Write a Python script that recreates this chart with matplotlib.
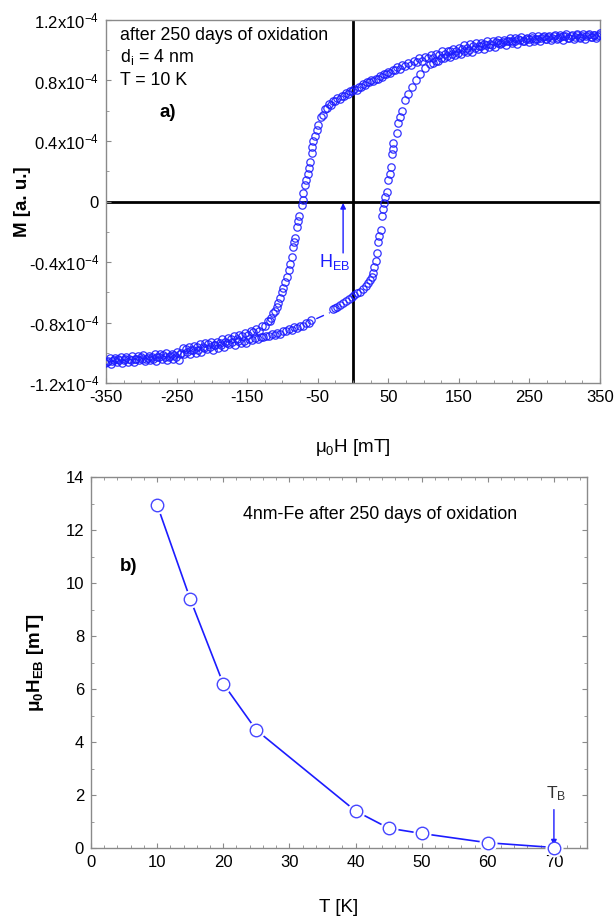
"""Exchange bias in oxidised 4 nm Fe: hysteresis loop at 10 K (a) and
temperature dependence of the exchange bias field (b)."""
import matplotlib

matplotlib.use("Agg")
import matplotlib.pyplot as plt
from matplotlib.ticker import FixedLocator, MultipleLocator

plt.rcParams["font.family"] = ["Liberation Sans", "DejaVu Sans"]
plt.rcParams["mathtext.default"] = "regular"
plt.rcParams["axes.unicode_minus"] = False

# --- panel a: M(H) loop, moment in units of 1e-4 a.u. ------------------------
# descending branch, +350 mT -> -350 mT
field_down = [
    350, 346, 342, 338, 334, 330, 326, 322, 318, 314, 310, 306, 302, 298, 294,
    290, 286, 282, 278, 274, 270, 266, 262, 258, 254, 250, 246, 242, 238, 234,
    230, 226, 222, 218, 214, 210, 206, 202, 198, 194, 190, 186, 182, 178, 174,
    170, 166, 162, 158, 154, 150, 146, 142, 138, 134, 130, 126, 122, 118, 114,
    110, 106, 102, 98, 94, 90, 86, 82, 78, 74, 70, 66,
    62, 59, 56, 53, 50, 47, 44, 41, 38, 35, 32, 29, 26, 23, 20, 17, 14, 11, 8,
    5, 2, -1, -4, -7, -10, -13, -16, -19, -22, -25, -28, -31, -34, -37, -40,
    -43, -46,
    -49, -51, -54, -56.7, -57.5, -58, -61, -62.5, -63.8, -66, -68, -71, -71.5,
    -72.3, -76.5, -78, -79.4, -82, -83.5, -85, -86.4, -89, -91, -93.5, -96,
    -99, -101, -103.5, -106, -107.7, -111, -113, -116, -117.6,
    -121, -125, -129, -133, -137, -141, -145, -149, -153, -157, -161, -165,
    -169, -173, -177, -181, -185, -189, -193, -197, -201, -205, -209, -213,
    -217, -221, -225, -229, -233, -237, -241, -245, -249, -253, -257, -261,
    -265, -269, -273, -277, -281, -285, -289, -293, -297, -301, -305, -309,
    -313, -317, -321, -325, -329, -333, -337, -341, -345, -349,
]
moment_down = [
    1.112, 1.092, 1.103, 1.085, 1.108, 1.096, 1.106, 1.085, 1.109, 1.088,
    1.100, 1.081, 1.105, 1.092, 1.101, 1.080, 1.103, 1.082, 1.093, 1.074,
    1.097, 1.084, 1.093, 1.072, 1.095, 1.074, 1.084, 1.064, 1.086, 1.072,
    1.080, 1.059, 1.081, 1.059, 1.069, 1.049, 1.071, 1.057, 1.064, 1.041,
    1.062, 1.038, 1.047, 1.026, 1.046, 1.031, 1.038, 1.014, 1.034, 1.009,
    1.016, 0.992, 1.011, 0.994, 0.998, 0.973, 0.992, 0.966, 0.973, 0.950,
    0.968, 0.950, 0.955, 0.929, 0.946, 0.920, 0.926, 0.901, 0.918, 0.899,
    0.902, 0.875,
    0.888, 0.868, 0.869, 0.850, 0.858, 0.843, 0.843, 0.824, 0.832, 0.812,
    0.813, 0.794, 0.802, 0.787, 0.787, 0.768, 0.776, 0.756, 0.757, 0.738,
    0.746, 0.731, 0.730, 0.710, 0.717, 0.696, 0.696, 0.676, 0.683, 0.666,
    0.663, 0.640, 0.644, 0.620, 0.610, 0.571, 0.556,
    0.505, 0.470, 0.435, 0.400, 0.360, 0.320, 0.260, 0.220, 0.185, 0.145,
    0.106, 0.053, 0.010, -0.026, -0.093, -0.130, -0.170, -0.240, -0.270,
    -0.300, -0.370, -0.410, -0.455, -0.500, -0.535, -0.570, -0.600, -0.635,
    -0.670, -0.700, -0.725, -0.740, -0.770, -0.790,
    -0.793, -0.826, -0.826, -0.855, -0.842, -0.862, -0.859, -0.885, -0.866,
    -0.892, -0.885, -0.909, -0.890, -0.908, -0.903, -0.928, -0.910, -0.935,
    -0.928, -0.949, -0.929, -0.944, -0.937, -0.961, -0.940, -0.965, -0.957,
    -0.980, -0.960, -0.977, -0.971, -1.007, -0.994, -1.016, -1.006, -1.025,
    -1.003, -1.016, -1.008, -1.030, -1.007, -1.029, -1.018, -1.038, -1.016,
    -1.029, -1.021, -1.042, -1.020, -1.042, -1.031, -1.051, -1.028, -1.042,
    -1.034, -1.055, -1.033, -1.058,
]

# ascending branch, -350 mT -> +350 mT
field_up = [
    -351, -347, -343, -339, -335, -331, -327, -323, -319, -315, -311, -307,
    -303, -299, -295, -291, -287, -283, -279, -275, -271, -267, -263, -259,
    -255, -251, -247, -243, -239, -235, -231, -227, -223, -219, -215, -211,
    -207, -203, -199, -195, -191, -187, -183, -179, -175, -171, -167, -163,
    -159, -155, -151, -147, -143, -139, -135, -131, -127, -123, -119, -115,
    -111, -107, -103, -99, -95, -91, -87, -83, -79, -75, -71, -67, -63, -59,
    -28, -25, -22, -18, -14, -10, -6, -2, 2, 6, 10, 14, 18, 21.3, 24, 26.9,
    28.5, 29.7, 32, 34, 35.4, 37, 39.6, 41.1, 42.5, 43.9, 46, 48.2, 49.6, 52,
    53.8, 55.3, 56, 56.7, 62.3, 63.8, 66, 69.4, 73.7, 78, 83.6, 89, 95, 102,
    109,
    113, 117, 121, 125, 129, 133, 137, 141, 145, 149, 153, 157, 161, 165, 169,
    173, 177, 181, 185, 189, 193, 197, 201, 205, 209, 213, 217, 221, 225, 229,
    233, 237, 241, 245, 249, 253, 257, 261, 265, 269, 273, 277, 281, 285, 289,
    293, 297, 301, 305, 309, 313, 317, 321, 325, 329, 333, 337, 341, 345, 349,
]
moment_up = [
    -1.068, -1.055, -1.072, -1.047, -1.058, -1.047, -1.066, -1.041, -1.060,
    -1.047, -1.064, -1.038, -1.049, -1.038, -1.057, -1.032, -1.051, -1.038,
    -1.055, -1.030, -1.041, -1.029, -1.048, -1.023, -1.042, -1.029, -1.045,
    -1.000, -1.008, -0.994, -1.011, -0.983, -0.999, -0.983, -0.997, -0.969,
    -0.977, -0.963, -0.979, -0.951, -0.967, -0.951, -0.964, -0.936, -0.945,
    -0.931, -0.947, -0.919, -0.935, -0.919, -0.933, -0.909, -0.915, -0.905,
    -0.910, -0.894, -0.896, -0.887, -0.892, -0.876, -0.881, -0.870, -0.874,
    -0.856, -0.856, -0.845, -0.849, -0.830, -0.834, -0.821, -0.822, -0.802,
    -0.800, -0.786,
    -0.712, -0.703, -0.695, -0.683, -0.672, -0.660, -0.645, -0.632, -0.620,
    -0.608, -0.595, -0.578, -0.560, -0.540, -0.520, -0.500, -0.470, -0.436,
    -0.390, -0.340, -0.270, -0.230, -0.190, -0.093, -0.050, -0.013, 0.030,
    0.060, 0.139, 0.180, 0.225, 0.317, 0.350, 0.390, 0.456, 0.520, 0.560,
    0.600, 0.668, 0.710, 0.754, 0.800, 0.846, 0.880, 0.912,
    0.916, 0.930, 0.928, 0.947, 0.947, 0.959, 0.955, 0.973, 0.968, 0.980,
    0.976, 0.993, 0.986, 1.003, 0.990, 1.018, 1.011, 1.025, 1.009, 1.037,
    1.021, 1.037, 1.023, 1.050, 1.041, 1.054, 1.037, 1.063, 1.046, 1.060,
    1.044, 1.070, 1.060, 1.072, 1.054, 1.080, 1.062, 1.076, 1.059, 1.085,
    1.074, 1.085, 1.066, 1.092, 1.073, 1.086, 1.069, 1.094, 1.083, 1.094,
    1.075, 1.100, 1.080, 1.093, 1.076, 1.100, 1.089, 1.099, 1.080, 1.104,
]

# the sparse stretch of the ascending branch is drawn as a short dash
gap_field = [-52, -33]
gap_moment = [-0.775, -0.735]

loop_xticks = [-350, -250, -150, -50, 50, 150, 250, 350]
loop_yticks = [-1.2, -0.8, -0.4, 0, 0.4, 0.8, 1.2]
loop_ytick_labels = ["-1.2x10$^{-4}$", "-0.8x10$^{-4}$", "-0.4x10$^{-4}$", "0",
                     "0.4x10$^{-4}$", "0.8x10$^{-4}$", "1.2x10$^{-4}$"]

# --- panel b: exchange bias field vs temperature ------------------------------
temperature = [10, 15, 20, 25, 40, 45, 50, 60, 70]
exchange_bias = [12.95, 9.4, 6.2, 4.45, 1.4, 0.75, 0.55, 0.2, 0.02]

BLUE = "#1c1cff"
SPINE = "#8a8a8a"


def style_axes(ax, ticks_all_sides=False):
    for spine in ax.spines.values():
        spine.set_color(SPINE)
        spine.set_linewidth(1.0)
    ax.tick_params(which="both", direction="in", color=SPINE, labelsize=12,
                   top=ticks_all_sides, right=ticks_all_sides)
    ax.tick_params(which="major", length=3.5, pad=5)
    ax.tick_params(which="minor", length=2)


def draw_loop(ax):
    ax.axhline(0, color="black", lw=2.0, zorder=1)
    ax.axvline(0, color="black", lw=2.0, zorder=1)
    for field, moment in ((field_down, moment_down), (field_up, moment_up)):
        ax.plot(field, moment, "o", ms=5.3, mfc="none", mec=BLUE, mew=0.9,
                alpha=0.9, zorder=3)
    ax.plot(gap_field, gap_moment, color=BLUE, lw=1.0, dashes=(6, 4), zorder=3)

    ax.set_xlim(-350, 350)
    ax.set_ylim(-1.2, 1.2)
    ax.xaxis.set_major_locator(FixedLocator(loop_xticks))
    ax.xaxis.set_minor_locator(MultipleLocator(25))
    ax.set_yticks(loop_yticks, loop_ytick_labels)
    ax.yaxis.set_minor_locator(MultipleLocator(0.2))
    style_axes(ax)
    ax.set_xlabel("μ$_0$H [mT]", fontsize=13.5, labelpad=23)
    ax.set_ylabel("M [a. u.]", fontsize=13.5, fontweight="bold", labelpad=-2)

    ax.text(0.028, 0.956, "after 250 days of oxidation", transform=ax.transAxes,
            fontsize=12.8, va="center")
    ax.text(0.028, 0.898, "d$_i$ = 4 nm", transform=ax.transAxes,
            fontsize=12.8, va="center")
    ax.text(0.028, 0.832, "T = 10 K", transform=ax.transAxes,
            fontsize=12.8, va="center")
    ax.text(0.109, 0.744, "a)", transform=ax.transAxes, fontsize=13.5,
            fontweight="bold", va="center")

    ax.annotate("", xy=(-14, -0.01), xytext=(-14, -0.34),
                arrowprops=dict(arrowstyle="-|>", color=BLUE, lw=1.0,
                                mutation_scale=8, shrinkA=0, shrinkB=0))
    ax.text(-48, -0.40, "H$_{EB}$", color=BLUE, fontsize=13, va="center")


def draw_bias(ax):
    ax.plot(temperature, exchange_bias, color=BLUE, lw=1.2, zorder=2,
            clip_on=False)
    ax.plot(temperature, exchange_bias, "o", ms=12, mfc="white", mec="white",
            zorder=3, clip_on=False)
    ax.plot(temperature, exchange_bias, "o", ms=9, mfc="white", mec="#4646ff",
            mew=1.0, zorder=4, clip_on=False)

    ax.set_xlim(0, 75)
    ax.set_ylim(0, 14)
    ax.xaxis.set_major_locator(MultipleLocator(10))
    ax.xaxis.set_minor_locator(MultipleLocator(2))
    ax.yaxis.set_major_locator(MultipleLocator(2))
    ax.yaxis.set_minor_locator(MultipleLocator(1))
    style_axes(ax, ticks_all_sides=True)
    ax.set_xlabel("T [K]", fontsize=13.5, labelpad=21)
    ax.set_ylabel("μ$_0$H$_{EB}$ [mT]", fontsize=13.5, fontweight="bold",
                  labelpad=14)

    ax.text(0.306, 0.90, "4nm-Fe after 250 days of oxidation",
            transform=ax.transAxes, fontsize=12.8, va="center")
    ax.text(0.058, 0.76, "b)", transform=ax.transAxes, fontsize=13.5,
            fontweight="bold", va="center")

    ax.annotate("", xy=(70, 0.1), xytext=(70, 1.45),
                arrowprops=dict(arrowstyle="-|>", color=BLUE, lw=1.0,
                                mutation_scale=8, shrinkA=0, shrinkB=0))
    ax.text(70.3, 2.05, "T$_B$", color="#333333", fontsize=12.5,
            ha="center", va="center")


def main():
    fig = plt.figure(figsize=(6.14, 9.17), dpi=100)
    ax_loop = fig.add_axes([0.1726, 0.5823, 0.8046, 0.3959])
    ax_bias = fig.add_axes([0.1482, 0.0752, 0.8078, 0.4046])
    draw_loop(ax_loop)
    draw_bias(ax_bias)
    fig.savefig("out.png", dpi=100)
    plt.close(fig)


if __name__ == "__main__":
    main()
